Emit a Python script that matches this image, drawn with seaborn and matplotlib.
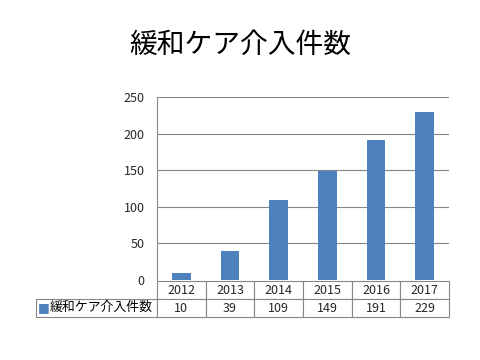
import matplotlib
matplotlib.use("Agg")
import matplotlib.pyplot as plt
import seaborn as sns
import pandas as pd

years = ["2012", "2013", "2014", "2015", "2016", "2017"]
values = [10, 39, 109, 149, 191, 229]
series_name = "緩和ケア介入件数"
title = "緩和ケア介入件数"
yticks = [0, 50, 100, 150, 200, 250]

sns.set_style("white")
plt.rcParams["font.family"] = ["Noto Sans CJK JP", "DejaVu Sans"]

df = pd.DataFrame({"year": years, "count": values})

fig = plt.figure(figsize=(4.8, 3.6), dpi=100)
ax = fig.add_axes([157/480, 1-280/360, 292/480, 183/360])

bar_color = "#4F81BD"
grid_color = "#868686"
sns.barplot(data=df, x="year", y="count", color=bar_color, width=0.38,
            saturation=1, linewidth=0, edgecolor=bar_color, ax=ax, zorder=3)

ax.set_ylim(0, 250)
ax.set_xlim(-0.5, 5.5)
ax.set_yticks(yticks)
ax.set_yticklabels([str(t) for t in yticks], fontsize=9)
ax.set_xticks([])
ax.set_xlabel("")
ax.set_ylabel("")
for t in yticks[1:]:
    ax.axhline(t, color=grid_color, lw=0.8, zorder=1)
for s in ["top", "right", "bottom"]:
    ax.spines[s].set_visible(False)
ax.spines["left"].set_color(grid_color)
ax.spines["left"].set_linewidth(0.8)
ax.tick_params(axis="y", length=0, pad=9)

# data table
ax_h = 183.0
ax_w = 292.0
label_w = 121.0
col_w = ax_w / 6
cell_text = [[""] + [str(v) for v in values]]
col_labels = [""] + years
tbl = ax.table(cellText=cell_text, colLabels=col_labels,
               colWidths=[label_w] + [col_w]*6,
               bbox=[-label_w/ax_w, -(317-280)/ax_h, (label_w+ax_w)/ax_w, 36/ax_h],
               cellLoc="center")
tbl.auto_set_font_size(False)
tbl.set_fontsize(9)
for (r, c), cell in tbl.get_celld().items():
    cell.set_edgecolor(grid_color)
    cell.set_linewidth(0.8)
    if r == 0 and c == 0:
        cell.visible_edges = ""
row_y = -(307.5-280)/ax_h
ax.text((38-157)/ax_w, row_y, "■", color=bar_color,
        fontsize=9, va="center", ha="left", transform=ax.transAxes,
        family=["DejaVu Sans"])
ax.text((50-157)/ax_w, row_y, series_name, color="black",
        fontsize=9.3, va="center", ha="left", transform=ax.transAxes)

fig.text(0.5, 1-45/360, title, ha="center", va="center", fontsize=20,
         color="black")

fig.savefig("out.png", dpi=100, facecolor="white")
